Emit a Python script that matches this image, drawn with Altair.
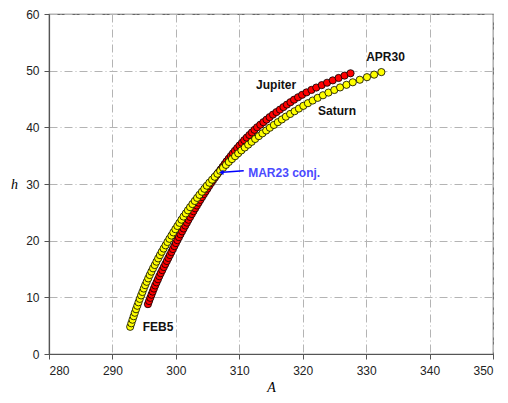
import altair as alt
import pandas as pd

# Jupiter (red) – daily positions FEB5 .. APR30
jupiter_A = [295.60, 295.78, 295.97, 296.16, 296.35, 296.54, 296.74, 296.96, 297.18, 297.39,
             297.62, 297.86, 298.10, 298.34, 298.58, 298.82, 299.06, 299.30, 299.53, 299.77,
             300.01, 300.24, 300.49, 300.73, 300.98, 301.23, 301.49, 301.74, 301.99, 302.25,
             302.52, 302.78, 303.05, 303.32, 303.59, 303.86, 304.14, 304.42, 304.70, 304.98,
             305.26, 305.55, 305.85, 306.16, 306.46, 306.76, 307.07, 307.38, 307.69, 307.99,
             308.33, 308.66, 308.99, 309.31, 309.67, 310.04, 310.42, 310.78, 311.17, 311.59,
             311.99, 312.40, 312.81, 313.31, 313.80, 314.30, 314.78, 315.31, 315.86, 316.41,
             316.96, 317.51, 318.07, 318.64, 319.27, 319.91, 320.61, 321.38, 322.14, 323.00,
             323.84, 324.74, 325.66, 326.60, 327.54]
jupiter_h = [8.80, 9.35, 9.91, 10.46, 11.01, 11.55, 12.10, 12.64, 13.19, 13.73,
             14.27, 14.80, 15.34, 15.87, 16.41, 16.94, 17.47, 17.99, 18.52, 19.04,
             19.57, 20.09, 20.61, 21.12, 21.64, 22.15, 22.67, 23.18, 23.69, 24.19,
             24.70, 25.20, 25.71, 26.21, 26.71, 27.20, 27.70, 28.20, 28.69, 29.18,
             29.67, 30.16, 30.64, 31.13, 31.61, 32.09, 32.57, 33.04, 33.52, 33.99,
             34.47, 34.94, 35.41, 35.87, 36.34, 36.80, 37.27, 37.73, 38.19, 38.65,
             39.10, 39.56, 40.01, 40.46, 40.91, 41.36, 41.80, 42.25, 42.69, 43.13,
             43.57, 44.01, 44.44, 44.88, 45.31, 45.74, 46.17, 46.60, 47.02, 47.45,
             47.87, 48.29, 48.71, 49.13, 49.54]

# Saturn (yellow) – daily positions FEB5 .. APR30
saturn_A = [292.80, 292.98, 293.17, 293.35, 293.53, 293.72, 293.92, 294.11, 294.31, 294.52,
            294.73, 294.94, 295.16, 295.40, 295.64, 295.88, 296.14, 296.40, 296.67, 296.94,
            297.21, 297.49, 297.77, 298.07, 298.37, 298.67, 298.98, 299.30, 299.60, 299.92,
            300.24, 300.56, 300.88, 301.21, 301.56, 301.90, 302.24, 302.61, 302.98, 303.35,
            303.72, 304.11, 304.49, 304.88, 305.28, 305.71, 306.12, 306.55, 306.99, 307.44,
            307.90, 308.35, 308.84, 309.34, 309.83, 310.33, 310.87, 311.41, 311.95, 312.50,
            313.08, 313.65, 314.24, 314.82, 315.45, 316.08, 316.71, 317.34, 318.02, 318.72,
            319.40, 320.10, 320.82, 321.57, 322.36, 323.19, 324.06, 324.98, 325.89, 326.90,
            327.89, 329.00, 330.13, 331.26, 332.40]
saturn_h = [4.80, 5.42, 6.05, 6.67, 7.28, 7.90, 8.51, 9.12, 9.73, 10.34,
            10.94, 11.55, 12.15, 12.74, 13.34, 13.94, 14.53, 15.12, 15.70, 16.29,
            16.87, 17.45, 18.03, 18.61, 19.18, 19.76, 20.33, 20.90, 21.46, 22.03,
            22.59, 23.15, 23.70, 24.26, 24.81, 25.36, 25.91, 26.46, 27.01, 27.55,
            28.09, 28.63, 29.16, 29.70, 30.23, 30.76, 31.28, 31.81, 32.33, 32.85,
            33.37, 33.89, 34.40, 34.91, 35.42, 35.93, 36.44, 36.94, 37.44, 37.95,
            38.45, 38.94, 39.44, 39.93, 40.42, 40.91, 41.39, 41.88, 42.36, 42.84,
            43.31, 43.79, 44.26, 44.73, 45.20, 45.66, 46.13, 46.59, 47.04, 47.50,
            47.95, 48.40, 48.85, 49.30, 49.75]

# annotations
labels = ["Jupiter", "Saturn", "APR30", "FEB5"]
label_A = [315.8, 325.4, 333.05, 297.2]
label_h = [47.4, 42.9, 52.5, 4.7]

conj_text = ["MAR23 conj."]
conj_A = [311.4]
conj_h = [31.9]

arrow_A = [310.7, 307.4]
arrow_h = [32.35, 32.06]
arrow_tip_A = [307.15]
arrow_tip_h = [32.04]

x_ticks = [280, 290, 300, 310, 320, 330, 340, 350]
y_ticks = [0, 10, 20, 30, 40, 50, 60]

jup = pd.DataFrame({"A": jupiter_A, "h": jupiter_h})
sat = pd.DataFrame({"A": saturn_A, "h": saturn_h})
lab = pd.DataFrame({"A": label_A, "h": label_h, "t": labels})
conj = pd.DataFrame({"A": conj_A, "h": conj_h, "t": conj_text})
arr = pd.DataFrame({"A": arrow_A, "h": arrow_h})
tip = pd.DataFrame({"A": arrow_tip_A, "h": arrow_tip_h})

x_enc = alt.X("A:Q",
              scale=alt.Scale(domain=[280, 350], nice=False, zero=False),
              axis=alt.Axis(values=x_ticks, title="A", tickSize=5, labelPadding=6,
                            titleY=40, titleBaseline="bottom"))
y_enc = alt.Y("h:Q",
              scale=alt.Scale(domain=[0, 60], nice=False, zero=True),
              axis=alt.Axis(values=y_ticks, title="h", tickSize=5, labelPadding=5,
                            titleAngle=0, titleX=-35, titleY=170,
                            titleAlign="center", titleBaseline="middle"))

pts_j = alt.Chart(jup).mark_circle(color="#ff0000", opacity=1, size=52,
                                   stroke="#000000", strokeWidth=0.8).encode(x=x_enc, y=y_enc)
pts_s = alt.Chart(sat).mark_circle(color="#ffff00", opacity=1, size=52,
                                   stroke="#000000", strokeWidth=0.8).encode(x=x_enc, y=y_enc)

txt = alt.Chart(lab).mark_text(font="Liberation Sans", fontSize=12, fontWeight="bold",
                               color="#111111", align="center", baseline="middle").encode(
    x=x_enc, y=y_enc, text="t:N")

ctxt = alt.Chart(conj).mark_text(font="Liberation Sans", fontSize=12, fontWeight="bold",
                                 color="#4a4aff", align="left", baseline="middle").encode(
    x=x_enc, y=y_enc, text="t:N")

arrow_line = alt.Chart(arr).mark_line(color="#0000ff", strokeWidth=1.5).encode(x=x_enc, y=y_enc)
arrow_head = alt.Chart(tip).mark_point(shape="triangle-left", filled=True, color="#0000ff",
                                       opacity=1, size=28).encode(x=x_enc, y=y_enc)

chart = alt.layer(pts_j, pts_s, arrow_line, arrow_head, txt, ctxt).properties(
    width=444, height=340,
    autosize=alt.AutoSizeParams(type="none"),
    padding={"left": 41, "top": 6, "right": 7, "bottom": 42},
).configure_view(
    stroke="#666666", strokeWidth=1.2
).configure_axis(
    labelFont="Liberation Sans", labelFontSize=12, labelColor="#222222",
    tickColor="#555555", domainColor="#555555", domainWidth=1.2,
    grid=True, gridColor="#b4b4b4", gridDash=[8, 3, 1, 3], gridWidth=1,
    titleFont="Liberation Serif", titleFontStyle="italic", titleFontWeight="normal",
    titleFontSize=14, titleColor="#000000"
)

chart.save("out.html", embed_options={"renderer": "svg", "actions": False})
